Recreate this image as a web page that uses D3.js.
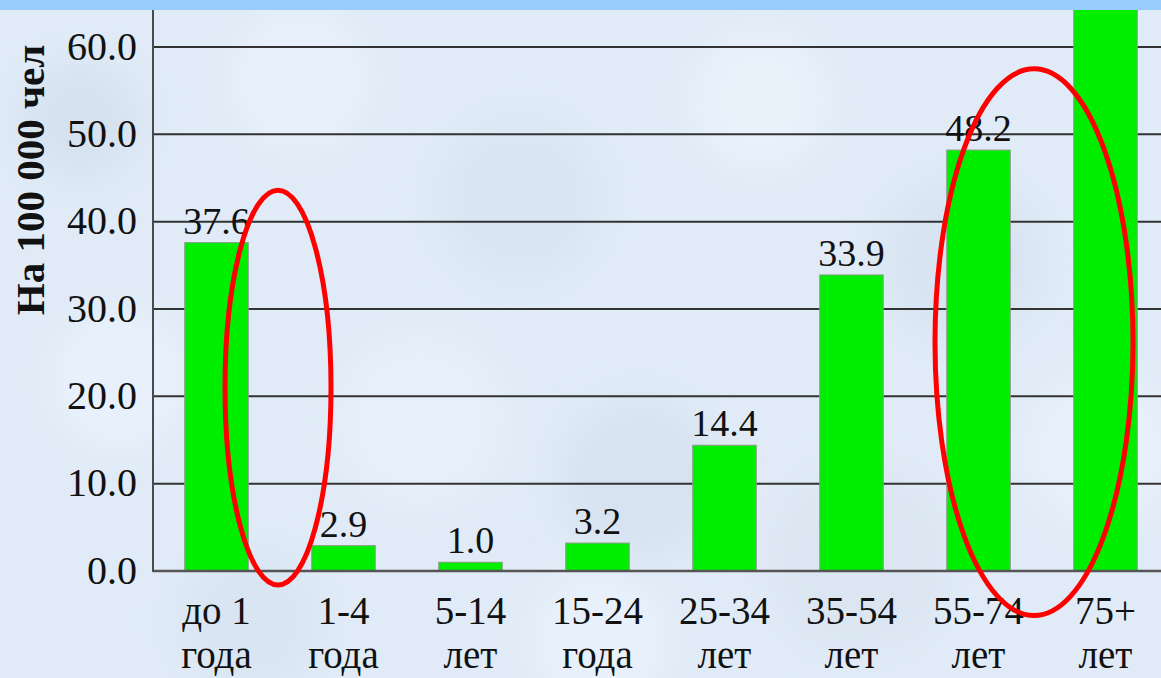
<!DOCTYPE html>
<html>
<head>
<meta charset="utf-8">
<script src="https://cdn.jsdelivr.net/npm/d3@7"></script>
<style>
  html, body { margin: 0; padding: 0; background: #dfeaf6; }
  svg { display: block; }
</style>
</head>
<body>
<svg id="chart" width="1161" height="678"></svg>
<script>
// ---- data ----
const categoriesLine1 = ["до 1", "1-4", "5-14", "15-24", "25-34", "35-54", "55-74", "75+"];
const categoriesLine2 = ["года", "года", "лет", "года", "лет", "лет", "лет", "лет"];
const values = [37.6, 2.9, 1.0, 3.2, 14.4, 33.9, 48.2, 70.0];
const valueLabels = ["37.6", "2.9", "1.0", "3.2", "14.4", "33.9", "48.2", ""];
const yTicks = [0, 10, 20, 30, 40, 50, 60];
const yTitle = "На 100 000 чел";

// ---- layout ----
const W = 1161, H = 678;
const x0 = 153, step = 127;
const yZero = 571, yTop60 = 47;
const svg = d3.select("#chart");
const font = "'Liberation Serif', 'Times New Roman', serif";

// background texture
const defs = svg.append("defs");
const blur = defs.append("filter").attr("id", "blur").attr("x", "-50%").attr("y", "-50%").attr("width", "200%").attr("height", "200%");
blur.append("feGaussianBlur").attr("stdDeviation", 18);
svg.append("rect").attr("width", W).attr("height", H).attr("fill", "#e0ebf7");
const blobs = [[80,120,60,"#d6e2ef"],[300,80,70,"#e8f1fb"],[520,200,80,"#d9e5f2"],[760,100,70,"#e9f2fb"],[960,260,80,"#d8e4f1"],[420,420,90,"#e6effa"],[640,480,80,"#d7e3f0"],[120,380,70,"#e8f1fb"],[860,560,90,"#dbe6f2"],[250,620,70,"#d9e5f2"],[1100,450,80,"#e7f0fa"],[600,640,70,"#e8f1fb"]];
svg.append("g").attr("filter", "url(#blur)").selectAll("circle").data(blobs).join("circle")
  .attr("cx", d => d[0]).attr("cy", d => d[1]).attr("r", d => d[2]).attr("fill", d => d[3]);

const x = d3.scaleBand().domain(categoriesLine1).range([x0, x0 + step * categoriesLine1.length])
  .paddingInner(0.5).paddingOuter(0.25);
const y = d3.scaleLinear().domain([0, 60]).range([yZero, yTop60]);

// gridlines
svg.append("g").selectAll("line").data(yTicks.filter(d => d > 0)).join("line")
  .attr("x1", x0).attr("x2", W).attr("y1", d => y(d)).attr("y2", d => y(d))
  .attr("stroke", "#333").attr("stroke-width", 2);

// bars
const clipId = "plotclip";
defs.append("clipPath").attr("id", clipId).append("rect").attr("x", 0).attr("y", 0).attr("width", W).attr("height", yZero);
svg.append("g").attr("clip-path", `url(#${clipId})`).selectAll("rect").data(values).join("rect")
  .attr("x", (d, i) => x(categoriesLine1[i]))
  .attr("y", d => y(d))
  .attr("width", x.bandwidth())
  .attr("height", d => yZero - y(d))
  .attr("fill", "#00ee00")
  .attr("stroke", "#8a9a8a").attr("stroke-width", 1);

// value labels
svg.append("g").selectAll("text").data(values).join("text")
  .attr("x", (d, i) => x(categoriesLine1[i]) + x.bandwidth() / 2)
  .attr("y", d => y(d) - 9)
  .attr("text-anchor", "middle")
  .attr("font-family", font).attr("font-size", 38).attr("fill", "#111")
  .text((d, i) => valueLabels[i]);

// y axis
const yAxis = d3.axisLeft(y).tickValues(yTicks).tickFormat(d3.format(".1f")).tickSize(0).tickPadding(16);
const gy = svg.append("g").attr("transform", `translate(${x0},0)`).call(yAxis);
gy.select(".domain").remove();
gy.selectAll("text").attr("font-family", font).attr("font-size", 40).attr("fill", "#111").attr("dy", "0.3em");
svg.append("line").attr("x1", x0).attr("x2", x0).attr("y1", 10).attr("y2", yZero + 1)
  .attr("stroke", "#4a4a4a").attr("stroke-width", 2);

// x axis
const xAxis = d3.axisBottom(x).tickSize(0).tickFormat(() => "");
const gx = svg.append("g").attr("transform", `translate(0,${yZero})`).call(xAxis);
gx.select(".domain").remove();
svg.append("line").attr("x1", x0).attr("x2", W).attr("y1", yZero).attr("y2", yZero)
  .attr("stroke", "#555", ).attr("stroke-width", 2.5);
const catLabels = svg.append("g").selectAll("text").data(categoriesLine1).join("text")
  .attr("text-anchor", "middle")
  .attr("font-family", font).attr("font-size", 39).attr("fill", "#111");
catLabels.append("tspan").attr("x", d => x(d) + x.bandwidth() / 2).attr("y", 624).text(d => d);
catLabels.append("tspan").attr("x", d => x(d) + x.bandwidth() / 2).attr("y", 668).text((d, i) => categoriesLine2[i]);

// y title
svg.append("text")
  .attr("transform", `translate(44,180) rotate(-90)`)
  .attr("text-anchor", "middle")
  .attr("font-family", font).attr("font-weight", "bold").attr("font-size", 41).attr("fill", "#111")
  .text(yTitle);

// top band
svg.append("rect").attr("x", 0).attr("y", 0).attr("width", W).attr("height", 10).attr("fill", "#99ccff");

// annotation ellipses (positioned via scales)
const ann = [
  { cx: x(categoriesLine1[1]) - x.paddingInner() * step / 2, cyV: 21.0, rx: 53, ryV: 22.6, dx: -2 },
  { cx: x(categoriesLine1[7]) - x.paddingInner() * step / 2, cyV: 26.2, rx: 99, ryV: 31.3, dx: -8 }
];
svg.append("g").selectAll("ellipse").data(ann).join("ellipse")
  .attr("cx", d => d.cx + d.dx)
  .attr("cy", d => y(d.cyV))
  .attr("rx", d => d.rx)
  .attr("ry", d => yZero - y(d.ryV))
  .attr("fill", "none").attr("stroke", "#ff0000").attr("stroke-width", 5);
</script>
</body>
</html>
